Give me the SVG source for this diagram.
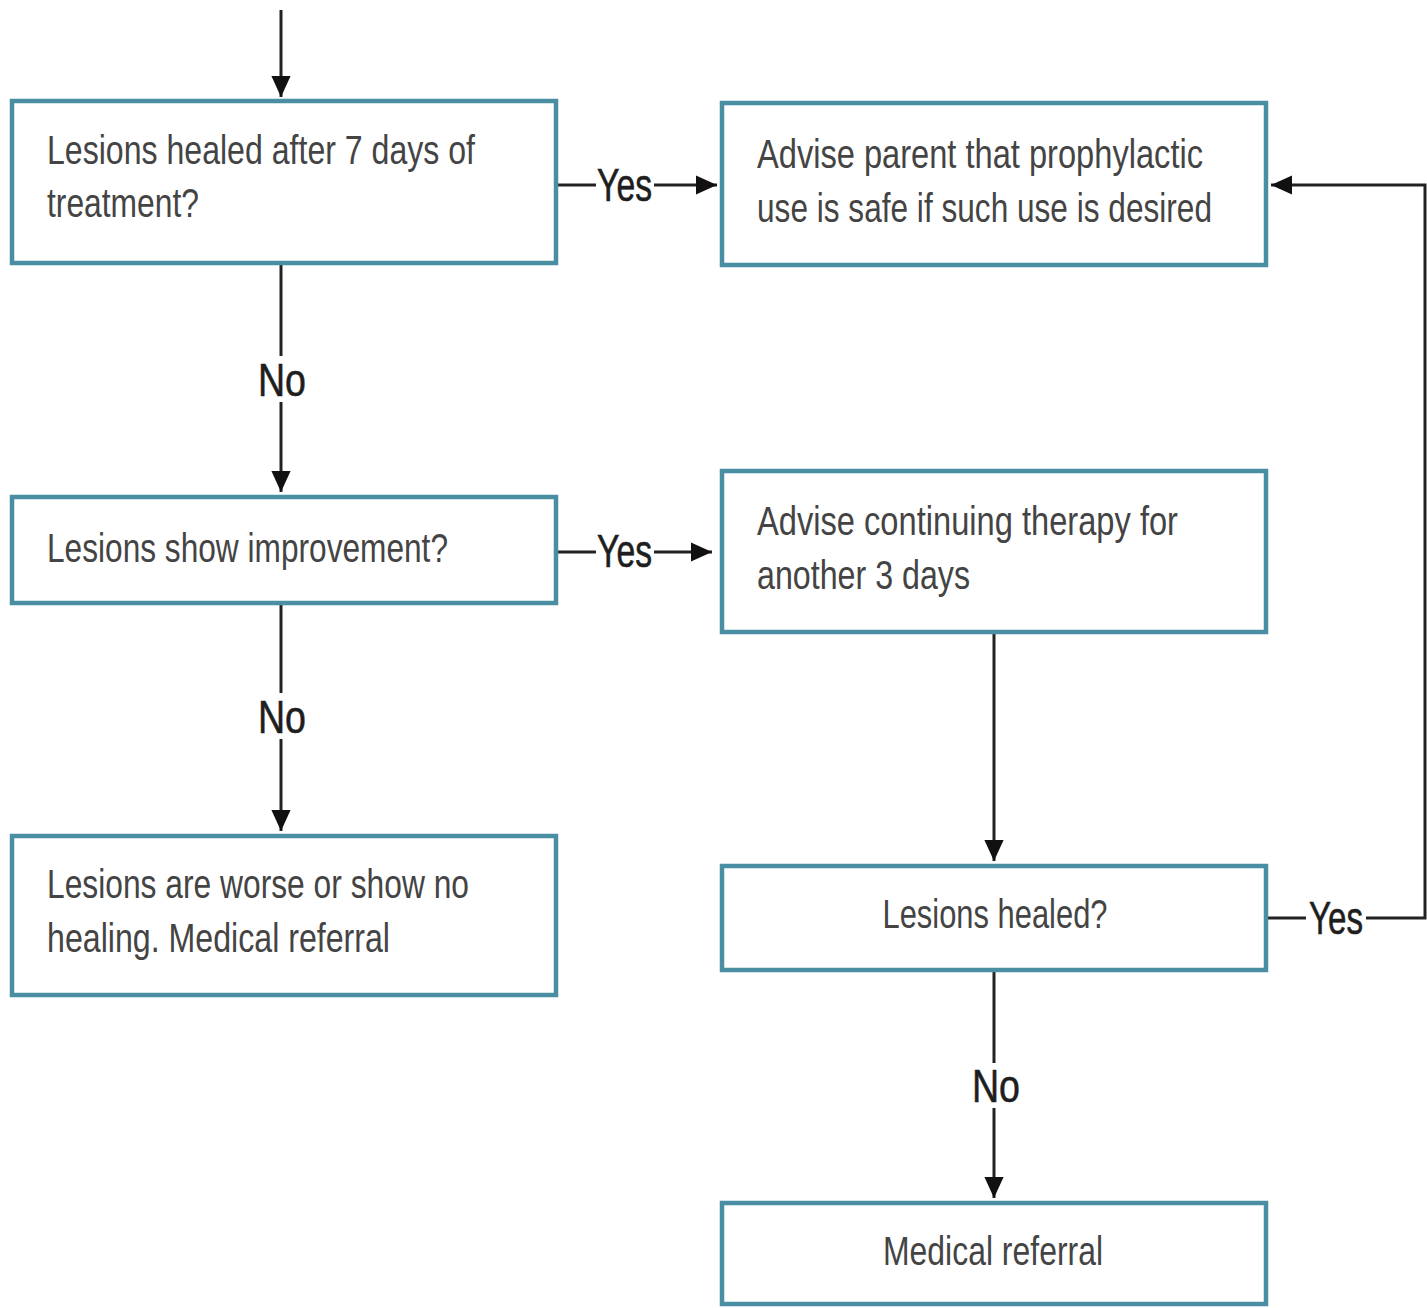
<svg xmlns="http://www.w3.org/2000/svg" width="1427" height="1308" viewBox="0 0 1427 1308">
<style>
.box{fill:#ffffff;stroke:#4a8ea3;stroke-width:4.5}
.t{font-family:"Liberation Sans",Arial,sans-serif;font-size:41px;fill:#444444}
.lbl{font-family:"Liberation Sans",Arial,sans-serif;font-size:46px;fill:#1e1e1e;stroke:#1e1e1e;stroke-width:0.6}
.c{stroke:#222;stroke-width:3;fill:none}
</style>
<defs>
<marker id="ah" markerWidth="8" markerHeight="8" refX="7" refY="4" orient="auto" markerUnits="strokeWidth">
<path d="M0,0.8 L7,4 L0,7.2 Z" fill="#111"/>
</marker>
</defs>
<rect width="1427" height="1308" fill="#ffffff"/>
<g id="connectors">
<line class="c" x1="281" y1="10" x2="281" y2="97" marker-end="url(#ah)"/>
<line class="c" x1="557" y1="185" x2="596" y2="185"/>
<line class="c" x1="654" y1="185" x2="717" y2="185" marker-end="url(#ah)"/>
<text class="lbl" x="597" y="201" textLength="55" lengthAdjust="spacingAndGlyphs">Yes</text>
<line class="c" x1="281" y1="263" x2="281" y2="356"/>
<line class="c" x1="281" y1="402" x2="281" y2="492" marker-end="url(#ah)"/>
<text class="lbl" x="258" y="396" textLength="48" lengthAdjust="spacingAndGlyphs">No</text>
<line class="c" x1="557" y1="552" x2="596" y2="552"/>
<line class="c" x1="654" y1="552" x2="712" y2="552" marker-end="url(#ah)"/>
<text class="lbl" x="597" y="567" textLength="55" lengthAdjust="spacingAndGlyphs">Yes</text>
<line class="c" x1="281" y1="604" x2="281" y2="693"/>
<line class="c" x1="281" y1="739" x2="281" y2="831" marker-end="url(#ah)"/>
<text class="lbl" x="258" y="733" textLength="48" lengthAdjust="spacingAndGlyphs">No</text>
<line class="c" x1="994" y1="633" x2="994" y2="861" marker-end="url(#ah)"/>
<line class="c" x1="1267" y1="918" x2="1306" y2="918"/>
<text class="lbl" x="1309" y="934" textLength="54" lengthAdjust="spacingAndGlyphs">Yes</text>
<polyline class="c" points="1366,918 1425,918 1425,185 1271,185" marker-end="url(#ah)"/>
<line class="c" x1="994" y1="971" x2="994" y2="1063"/>
<line class="c" x1="994" y1="1108" x2="994" y2="1198" marker-end="url(#ah)"/>
<text class="lbl" x="972" y="1102" textLength="48" lengthAdjust="spacingAndGlyphs">No</text>
</g>
<g id="n1">
<rect class="box" x="12" y="101" width="544" height="162"/>
<text class="t" x="47" y="164" textLength="428" lengthAdjust="spacingAndGlyphs">Lesions healed after 7 days of</text>
<text class="t" x="47" y="217" textLength="152" lengthAdjust="spacingAndGlyphs">treatment?</text>
</g>
<g id="n2">
<rect class="box" x="722" y="103" width="544" height="162"/>
<text class="t" x="757" y="168" textLength="446" lengthAdjust="spacingAndGlyphs">Advise parent that prophylactic</text>
<text class="t" x="757" y="222" textLength="455" lengthAdjust="spacingAndGlyphs">use is safe if such use is desired</text>
</g>
<g id="n3">
<rect class="box" x="12" y="497" width="544" height="106"/>
<text class="t" x="47" y="562" textLength="401" lengthAdjust="spacingAndGlyphs">Lesions show improvement?</text>
</g>
<g id="n4">
<rect class="box" x="722" y="471" width="544" height="161"/>
<text class="t" x="757" y="535" textLength="421" lengthAdjust="spacingAndGlyphs">Advise continuing therapy for</text>
<text class="t" x="757" y="589" textLength="213" lengthAdjust="spacingAndGlyphs">another 3 days</text>
</g>
<g id="n5">
<rect class="box" x="12" y="836" width="544" height="159"/>
<text class="t" x="47" y="898" textLength="422" lengthAdjust="spacingAndGlyphs">Lesions are worse or show no</text>
<text class="t" x="47" y="952" textLength="343" lengthAdjust="spacingAndGlyphs">healing. Medical referral</text>
</g>
<g id="n6">
<rect class="box" x="722" y="866" width="544" height="104"/>
<text class="t" x="995" y="928" text-anchor="middle" textLength="225" lengthAdjust="spacingAndGlyphs">Lesions healed?</text>
</g>
<g id="n7">
<rect class="box" x="722" y="1203" width="544" height="101"/>
<text class="t" x="993" y="1265" text-anchor="middle" textLength="220" lengthAdjust="spacingAndGlyphs">Medical referral</text>
</g>
</svg>
